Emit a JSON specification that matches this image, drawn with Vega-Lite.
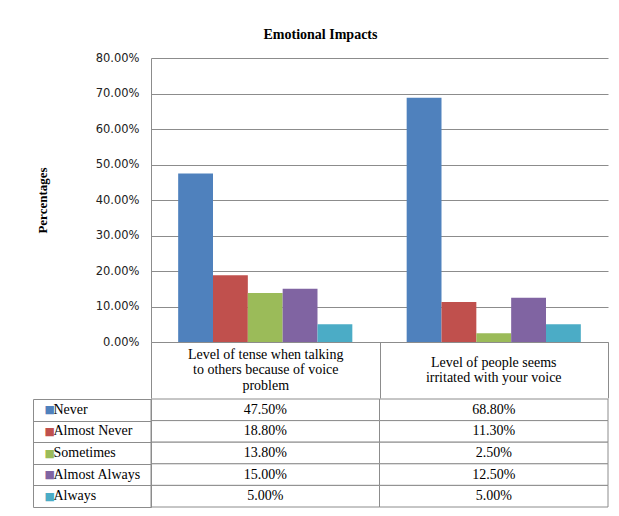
{
  "$schema": "https://vega.github.io/schema/vega-lite/v6.json",
  "padding": {"left": 32, "top": 28, "right": 5, "bottom": 5},
  "background": "white",
  "title": {"text": "Emotional Impacts", "font": "Liberation Serif", "fontSize": 14, "fontWeight": "bold", "anchor": "middle", "offset": 10, "color": "black"},
  "data": {"values": [
    {"question": "Level of tense when talking to others because of voice problem", "response": "Never", "value": 0.475},
    {"question": "Level of tense when talking to others because of voice problem", "response": "Almost Never", "value": 0.188},
    {"question": "Level of tense when talking to others because of voice problem", "response": "Sometimes", "value": 0.138},
    {"question": "Level of tense when talking to others because of voice problem", "response": "Almost Always", "value": 0.15},
    {"question": "Level of tense when talking to others because of voice problem", "response": "Always", "value": 0.05},
    {"question": "Level of people seems irritated with your voice", "response": "Never", "value": 0.688},
    {"question": "Level of people seems irritated with your voice", "response": "Almost Never", "value": 0.113},
    {"question": "Level of people seems irritated with your voice", "response": "Sometimes", "value": 0.025},
    {"question": "Level of people seems irritated with your voice", "response": "Almost Always", "value": 0.125},
    {"question": "Level of people seems irritated with your voice", "response": "Always", "value": 0.05}
  ]},
  "spacing": -6,
  "vconcat": [
    {
      "width": 457,
      "height": 284,
      "encoding": {
        "xOffset": {
          "field": "response", "type": "nominal",
          "sort": ["Never", "Almost Never", "Sometimes", "Almost Always", "Always"],
          "scale": {"paddingInner": 0, "paddingOuter": 0.78}
        },
        "y": {
          "field": "value", "type": "quantitative",
          "scale": {"domain": [0, 0.8], "nice": false},
          "axis": {
            "values": [0, 0.1, 0.2, 0.3, 0.4, 0.5, 0.6, 0.7, 0.8],
            "format": ".2%",
            "title": "Percentages", "titleFont": "Liberation Serif", "titleFontSize": 13, "titleFontWeight": "bold", "titleColor": "black", "titlePadding": 46,
            "labelFont": "DejaVu Sans", "labelFontSize": 11.5, "labelColor": "#222", "labelPadding": 12,
            "ticks": false, "domain": true, "domainColor": "#8c8c8c",
            "grid": true, "gridColor": "#8c8c8c", "gridOpacity": 1
          }
        },
        "color": {
          "field": "response", "type": "nominal",
          "scale": {"domain": ["Never", "Almost Never", "Sometimes", "Almost Always", "Always"], "range": ["#4F81BD", "#C0504D", "#9BBB59", "#8064A2", "#4BACC6"]},
          "legend": null
        }
      },
      "layer": [
        {
          "mark": {"type": "bar"},
          "encoding": {
            "x": {
              "field": "question", "type": "nominal",
              "sort": ["Level of tense when talking to others because of voice problem", "Level of people seems irritated with your voice"],
              "scale": {"paddingInner": 0, "paddingOuter": 0},
              "axis": {
                "orient": "bottom", "title": null, "domain": true, "domainColor": "#8c8c8c",
                "ticks": true, "tickBand": "extent", "tickSize": 56, "tickColor": "#8c8c8c",
                "labelExpr": "datum.value === 'Level of tense when talking to others because of voice problem' ? ['Level of tense when talking', 'to others because of voice', 'problem'] : ''",
                "labelFont": "Liberation Serif", "labelFontSize": 14, "labelColor": "black",
                "labelAngle": 0, "labelBaseline": "top", "labelPadding": -51, "labelLineHeight": 15.5,
                "labelLimit": 0, "labelOverlap": false
              }
            }
          }
        },
        {
          "mark": {"type": "bar", "opacity": 0},
          "encoding": {
            "x": {
              "field": "question", "type": "nominal",
              "sort": ["Level of tense when talking to others because of voice problem", "Level of people seems irritated with your voice"],
              "scale": {"paddingInner": 0, "paddingOuter": 0},
              "axis": {
                "orient": "bottom", "title": null, "domain": false, "ticks": false, "grid": false,
                "labelExpr": "datum.value === 'Level of people seems irritated with your voice' ? ['Level of people seems', 'irritated with your voice'] : ''",
                "labelFont": "Liberation Serif", "labelFontSize": 14, "labelColor": "black",
                "labelAngle": 0, "labelBaseline": "top", "labelPadding": 13, "labelLineHeight": 15.5,
                "labelLimit": 0, "labelOverlap": false
              }
            }
          }
        }
      ],
      "resolve": {"axis": {"x": "independent"}}
    },
    {
      "width": 457,
      "height": 108,
      "layer": [
        {
          "mark": {"type": "rect", "fill": "white", "stroke": "#8c8c8c", "strokeWidth": 1},
          "encoding": {
            "x": {"field": "question", "type": "nominal", "sort": ["Level of tense when talking to others because of voice problem", "Level of people seems irritated with your voice"], "scale": {"paddingInner": 0, "paddingOuter": 0}, "axis": null},
            "y": {
              "field": "response", "type": "nominal",
              "sort": ["Never", "Almost Never", "Sometimes", "Almost Always", "Always"],
              "scale": {"paddingInner": 0, "paddingOuter": 0},
              "axis": {
                "orient": "left", "title": null, "domain": true, "domainColor": "#8c8c8c",
                "ticks": true, "tickBand": "extent", "tickSize": 118, "tickColor": "#8c8c8c",
                "labelExpr": "datum.label == '' ? '' : '■'", "labelAlign": "left", "labelBaseline": "middle", "labelPadding": -11,
                "labelFont": "DejaVu Sans", "labelFontSize": 11,
                "labelColor": {"condition": [
                  {"test": "datum.value === 'Never'", "value": "#4F81BD"},
                  {"test": "datum.value === 'Almost Never'", "value": "#C0504D"},
                  {"test": "datum.value === 'Sometimes'", "value": "#9BBB59"},
                  {"test": "datum.value === 'Almost Always'", "value": "#8064A2"}
                ], "value": "#4BACC6"},
                "grid": false
              }
            }
          }
        },
        {
          "mark": {"type": "text", "font": "Liberation Serif", "fontSize": 14, "color": "black"},
          "encoding": {
            "x": {"field": "question", "type": "nominal", "sort": ["Level of tense when talking to others because of voice problem", "Level of people seems irritated with your voice"], "scale": {"paddingInner": 0, "paddingOuter": 0}, "axis": null},
            "y": {
              "field": "response", "type": "nominal",
              "sort": ["Never", "Almost Never", "Sometimes", "Almost Always", "Always"],
              "scale": {"paddingInner": 0, "paddingOuter": 0},
              "axis": {
                "orient": "left", "offset": 118, "title": null, "domain": true, "domainColor": "#8c8c8c",
                "ticks": false, "labelAlign": "left", "labelBaseline": "middle", "labelPadding": -20,
                "labelFont": "Liberation Serif", "labelFontSize": 14, "labelColor": "black", "labelLimit": 0,
                "grid": false
              }
            },
            "text": {"field": "value", "type": "quantitative", "format": ".2%"}
          }
        }
      ],
      "resolve": {"axis": {"y": "independent"}}
    }
  ],
  "config": {"view": {"stroke": null}, "font": "Liberation Serif"}
}
